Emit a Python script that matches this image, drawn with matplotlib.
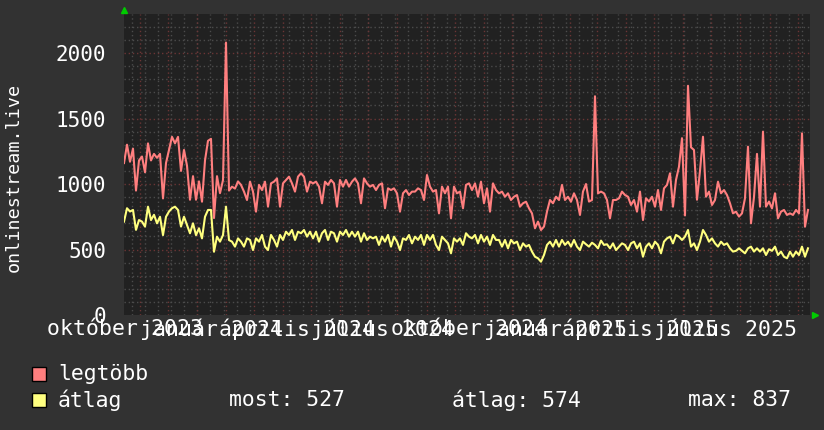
import numpy as np
import pandas as pd
import matplotlib
matplotlib.use('Agg')
import matplotlib.pyplot as plt
from matplotlib.patches import Rectangle
from matplotlib.transforms import blended_transform_factory

# legtöbb (max) and átlag (average) listeners, one value per RRD step
max_vals = [1160, 1300, 1170, 1270, 950, 1180, 1210, 1090, 1310, 1180, 1230, 1200, 1230, 890, 1160,
            1260, 1360, 1310, 1360, 1100, 1260, 1140, 880, 1060, 880, 1020, 865, 1180, 1330, 1345,
            740, 1060, 930, 1030, 2080, 950, 980, 965, 1020,
            993, 942, 878, 1018, 942, 789, 993, 954, 1018, 827, 1005, 1018, 1043, 827, 1005, 1031,
            1056, 1005, 942, 1056, 1082, 1056, 942, 1018, 1005, 1018, 980, 853, 1018, 993, 1031,
            1005, 827, 1031, 980, 1031, 980, 1018,
            1043, 1005, 853, 1043, 1005, 980, 993, 954, 993, 1005, 815, 967, 954, 967, 929, 789,
            929, 954, 916, 942, 942, 967, 954, 878, 1069, 980, 942, 954, 776, 980, 929, 980, 738,
            980, 929, 942, 815, 993, 1005,
            954, 1005, 903, 1018, 853, 967, 789, 1005, 954, 929, 942, 903, 929, 878, 903, 916, 827,
            853, 865, 815, 776, 662, 713, 649, 675, 789, 878, 853, 903, 878, 993, 878, 903, 865,
            929, 878, 764, 942,
            1000, 866, 878, 1670, 929, 942, 929, 878, 738, 878, 878, 891, 942, 916, 903, 840, 878,
            789, 942, 725, 891, 866, 903, 827, 954, 802, 967, 993, 1082, 827, 1031, 1132, 1350,
            760, 1750, 1280, 1260, 880,
            1100, 1361, 903, 942, 840, 878, 1018, 929, 954, 916, 853, 776, 789, 751, 776, 891,
            1285, 700, 900, 1230, 827, 1400, 827, 866, 814, 929, 738, 789, 802, 764, 776, 764,
            802, 776, 1387, 674, 802]

avg_vals = [713, 815, 790, 802, 650, 725, 713, 675, 827, 725, 765, 700, 750, 610, 750, 790, 815,
            827, 802, 675, 750, 688, 624, 700, 610, 662, 585, 750, 802, 802, 483, 598, 560, 610,
            827, 572, 560, 522, 585,
            560, 522, 585, 573, 496, 585, 560, 611, 522, 496, 611, 573, 522, 611, 573, 636, 611,
            649, 573, 636, 624, 649, 598, 636, 585, 636, 560, 624, 649, 573, 636, 624, 560, 636,
            611, 649, 598, 636,
            598, 636, 560, 624, 573, 598, 585, 598, 535, 598, 560, 611, 522, 598, 560, 496, 585,
            573, 611, 547, 598, 573, 611, 535, 611, 573, 611, 535, 496, 598, 573, 547, 471, 585,
            560, 585, 535, 624, 598,
            585, 611, 547, 611, 560, 598, 535, 611, 573, 573, 522, 573, 509, 573, 547, 560, 496,
            547, 522, 535, 484, 445, 433, 407, 458, 535, 560, 522, 573, 522, 573, 535, 560, 522,
            573, 522, 496, 560,
            540, 522, 552, 535, 509, 568, 535, 540, 509, 547, 496, 522, 547, 535, 496, 547, 560,
            509, 547, 445, 522, 547, 509, 560, 535, 471, 560, 585, 598, 547, 611, 598, 573, 598,
            649, 522, 547, 496,
            560, 649, 611, 560, 585, 547, 522, 560, 535, 547, 509, 484, 490, 509, 490, 471, 509,
            522, 484, 509, 484, 509, 458, 502, 490, 522, 458, 484, 445, 433, 484, 445, 484, 458,
            522, 445, 509]

x_labels = ['október 2023', 'január 2024', 'április 2024', 'július 2024',
            'október 2024', 'január 2025', 'április 2025', 'július 2025']
x_label_months = ['2023-10-01', '2024-01-01', '2024-04-01', '2024-07-01',
                  '2024-10-01', '2025-01-01', '2025-04-01', '2025-07-01']
y_ticks = [0, 500, 1000, 1500, 2000]
last_avg = 527
mean_avg = 574
max_avg = 837

start = pd.Timestamp('2023-10-15')
end = start + pd.Timedelta(days=730)
times = pd.date_range(start, periods=len(max_vals), freq='4597min')

BG = '#323232'
CANVAS = '#212121'
MINOR = '#4b4b4b'
MAJOR = '#6b3535'
RED = '#ff7f7f'
YELLOW = '#ffff7f'

plt.rcParams['font.family'] = 'DejaVu Sans Mono'
plt.rcParams['font.size'] = 15

fig = plt.figure(figsize=(8.24, 4.30), dpi=100, facecolor=BG)
ax = fig.add_axes([124 / 824, 115 / 430, 686 / 824, 301 / 430])
ax.set_facecolor(CANVAS)
ax.set_xlim(start, end)
ax.set_ylim(0, 2298)

# grid: minor every 100 / two weeks, major every 500 / month
for v in range(100, 2300, 100):
    ax.axhline(v, color=MAJOR if v % 500 == 0 else MINOR, lw=1, ls=(0, (1, 2)), zorder=1)
for d in pd.date_range('2023-10-23', end, freq='14D'):
    ax.axvline(d, color=MINOR, lw=1, ls=(0, (1, 2)), zorder=1)
for d in pd.date_range('2023-11-01', end, freq='MS'):
    ax.axvline(d, color=MAJOR, lw=1, ls=(0, (1, 2)), zorder=1)

ax.plot(times, max_vals, color=RED, lw=1.5, zorder=3)
ax.plot(times, avg_vals, color=YELLOW, lw=1.5, zorder=3)

ax.set_yticks(y_ticks)
ax.set_yticklabels([str(t) for t in y_ticks], color='white')
ax.tick_params(axis='y', length=0, pad=13)
ax.tick_params(axis='x', length=0, labelbottom=False)
for s in ax.spines.values():
    s.set_visible(False)

# month labels, centred half a month after the month start
trans = blended_transform_factory(ax.transData, ax.transAxes)
for m, lab in zip(x_label_months, x_labels):
    ax.text(pd.Timestamp(m) + pd.Timedelta(days=15), -0.047, lab, transform=trans,
            ha='center', va='center', color='white', clip_on=False, fontsize=15.5)

# green arrows at the axis ends
ax.plot([0], [1.013], marker='^', color='#00cc00', ms=5, transform=ax.transAxes, clip_on=False)
ax.plot([1.008], [0], marker='>', color='#00cc00', ms=5, transform=ax.transAxes, clip_on=False)

fig.text(14 / 824, 1 - 177 / 430, 'onlinestream.live', rotation=90, ha='center', va='center',
         color='white', fontsize=13.2)

# legend
fig.add_artist(Rectangle((32 / 824, 1 - 381 / 430), 14 / 824, 14 / 430, transform=fig.transFigure,
                         facecolor=RED, edgecolor='black', lw=1))
fig.add_artist(Rectangle((32 / 824, 1 - 407 / 430), 14 / 824, 14 / 430, transform=fig.transFigure,
                         facecolor=YELLOW, edgecolor='black', lw=1))
leg = dict(color='white', va='center', fontsize=15.4)
fig.text(58 / 824, 1 - 374 / 430, 'legtöbb', **leg)
fig.text(58 / 824, 1 - 400 / 430, 'átlag', **leg)
fig.text(229 / 824, 1 - 400 / 430, f'most: {last_avg}', **leg)
fig.text(452 / 824, 1 - 400 / 430, f'átlag: {mean_avg}', **leg)
fig.text(688 / 824, 1 - 400 / 430, f'max: {max_avg}', **leg)

fig.savefig('out.png', dpi=100, facecolor=BG)
